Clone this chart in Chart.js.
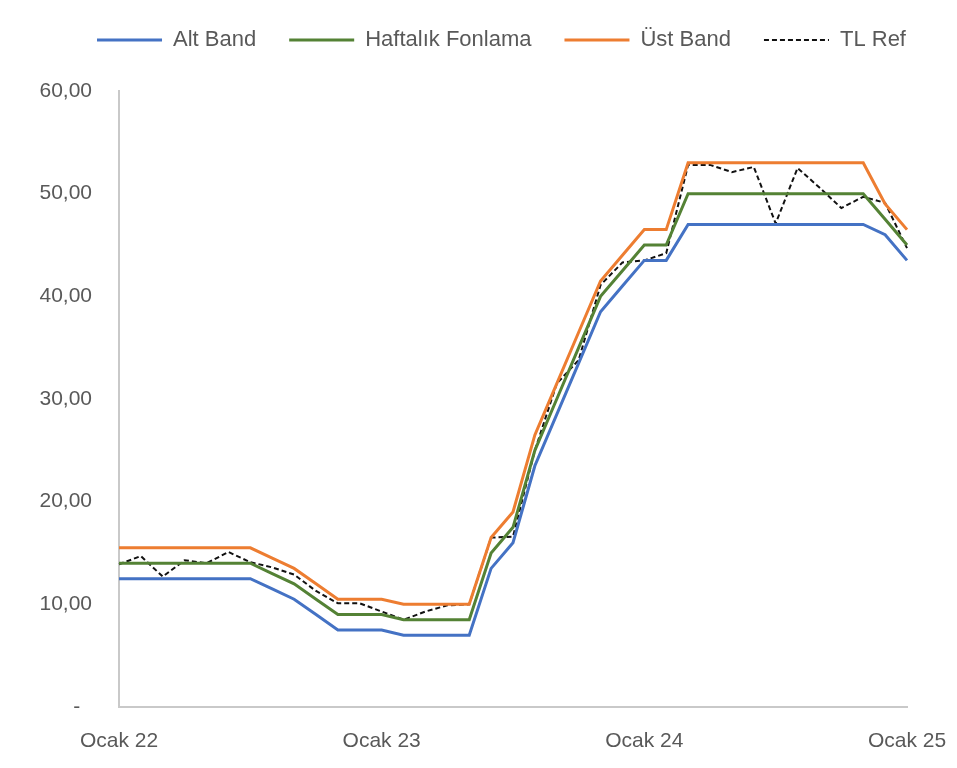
<!DOCTYPE html>
<html>
<head>
<meta charset="utf-8">
<script src="https://cdn.jsdelivr.net/npm/chart.js@4/dist/chart.umd.min.js"></script>
<style>
  html, body { margin: 0; padding: 0; background: #fff; }
  #wrap { width: 957px; height: 768px; position: relative; }
</style>
</head>
<body>
<div id="wrap"><canvas id="chart"></canvas></div>
<script>
// aylar: Ocak 22 -> Ocak 25
const aylar = [
  '2022-01','2022-02','2022-03','2022-04','2022-05','2022-06','2022-07','2022-08','2022-09','2022-10','2022-11','2022-12',
  '2023-01','2023-02','2023-03','2023-04','2023-05','2023-06','2023-07','2023-08','2023-09','2023-10','2023-11','2023-12',
  '2024-01','2024-02','2024-03','2024-04','2024-05','2024-06','2024-07','2024-08','2024-09','2024-10','2024-11','2024-12',
  '2025-01'
];

const altBand = [
  12.5, 12.5, 12.5, 12.5, 12.5, 12.5, 12.5, 11.5, 10.5, 9.0, 7.5, 7.5,
  7.5, 7.0, 7.0, 7.0, 7.0, 13.5, 16.0, 23.5, 28.5, 33.5, 38.5, 41.0,
  43.5, 43.5, 47.0, 47.0, 47.0, 47.0, 47.0, 47.0, 47.0, 47.0, 47.0, 46.0,
  43.5
];

const haftalikFonlama = [
  14.0, 14.0, 14.0, 14.0, 14.0, 14.0, 14.0, 13.0, 12.0, 10.5, 9.0, 9.0,
  9.0, 8.5, 8.5, 8.5, 8.5, 15.0, 17.5, 25.0, 30.0, 35.0, 40.0, 42.5,
  45.0, 45.0, 50.0, 50.0, 50.0, 50.0, 50.0, 50.0, 50.0, 50.0, 50.0, 47.5,
  45.0
];

const ustBand = [
  15.5, 15.5, 15.5, 15.5, 15.5, 15.5, 15.5, 14.5, 13.5, 12.0, 10.5, 10.5,
  10.5, 10.0, 10.0, 10.0, 10.0, 16.5, 19.0, 26.5, 31.5, 36.5, 41.5, 44.0,
  46.5, 46.5, 53.0, 53.0, 53.0, 53.0, 53.0, 53.0, 53.0, 53.0, 53.0, 49.0,
  46.5
];

const tlRef = [
  13.9, 14.7, 12.7, 14.3, 14.0, 15.1, 14.1, 13.6, 12.9, 11.3, 10.1, 10.1,
  9.3, 8.5, 9.3, 9.9, 10.0, 16.5, 16.6, 25.0, 31.5, 33.8, 41.1, 43.3,
  43.5, 44.2, 52.8, 52.8, 52.1, 52.6, 47.1, 52.5, 50.6, 48.6, 49.7, 49.1,
  44.7
];

const yTicks = [0, 10, 20, 30, 40, 50, 60];

const metin = '#595959';
const eksen = '#c9c9c9';
const eksenFont = { family: 'Liberation Sans', size: 21 };
const legendFont = { family: 'Liberation Sans', size: 22 };

function seri(label, data, color, width, dash) {
  return {
    label: label,
    data: data,
    borderColor: color,
    backgroundColor: color,
    borderWidth: width,
    borderDash: dash || [],
    pointRadius: 0,
    pointHoverRadius: 0,
    tension: 0,
    fill: false
  };
}

// legend: alt boşluk + konum ayarı
const legendAyar = {
  id: 'legendAyar',
  beforeInit(chart) {
    const fit = chart.legend.fit;
    chart.legend.fit = function () {
      fit.bind(chart.legend)();
      this.height = 91;
    };
  },
  afterLayout(chart) {
    const lg = chart.legend;
    lg.left += 48; lg.right += 48;
    lg.top -= 4; lg.bottom -= 4;
  }
};

new Chart(document.getElementById('chart'), {
  type: 'line',
  data: {
    labels: aylar,
    datasets: [
      seri('Alt Band', altBand, '#4472c4', 3),
      seri('Haftalık Fonlama', haftalikFonlama, '#548235', 3),
      seri('Üst Band', ustBand, '#ed7d31', 3),
      seri('TL Ref', tlRef, '#111111', 2, [5, 3])
    ]
  },
  plugins: [legendAyar],
  options: {
    responsive: true,
    maintainAspectRatio: false,
    animation: false,
    layout: { padding: { left: 0, right: 50, top: 0, bottom: 0 } },
    plugins: {
      tooltip: { enabled: false },
      legend: {
        position: 'top',
        labels: {
          usePointStyle: true,
          pointStyle: 'line',
          pointStyleWidth: 65,
          padding: 33,
          color: metin,
          font: legendFont,
          generateLabels(chart) {
            const items = Chart.defaults.plugins.legend.labels.generateLabels(chart);
            items.forEach(it => {
              const ds = chart.data.datasets[it.datasetIndex];
              it.lineDash = ds.borderDash;
              it.lineWidth = ds.borderWidth;
              it.strokeStyle = ds.borderColor;
            });
            return items;
          }
        }
      }
    },
    scales: {
      x: {
        offset: false,
        grid: { display: false, drawTicks: true, tickLength: 12 },
        border: { display: true, color: eksen, width: 2 },
        ticks: {
          autoSkip: false,
          maxRotation: 0,
          padding: 10,
          color: metin,
          font: eksenFont,
          callback: function (v, i) {
            const a = aylar[i];
            return a.endsWith('-01') ? 'Ocak ' + a.slice(2, 4) : '';
          }
        },
        afterFit: function (s) { s.height = 61; }
      },
      y: {
        min: 0,
        max: 60,
        afterBuildTicks: function (s) { s.ticks = yTicks.map(v => ({ value: v })); },
        grid: { display: false, drawTicks: true, tickLength: 24 },
        border: { display: true, color: eksen, width: 2 },
        ticks: {
          padding: 3,
          color: metin,
          font: eksenFont,
          callback: function (v) {
            return v === 0 ? '-  ' : v.toFixed(2).replace('.', ',');
          }
        },
        afterFit: function (s) { s.width = 119; }
      }
    }
  }
});
</script>
</body>
</html>
